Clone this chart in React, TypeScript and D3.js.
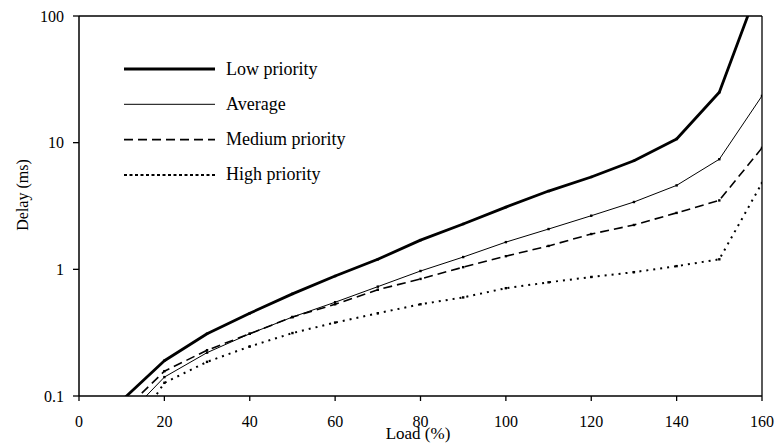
import React from "react";
import * as d3 from "d3";

const loads = [10, 20, 30, 40, 50, 60, 70, 80, 90, 100, 110, 120, 130, 140, 150, 160];
const lowPriority = [0.092, 0.19, 0.31, 0.45, 0.64, 0.885, 1.2, 1.7, 2.28, 3.1, 4.15, 5.36, 7.2, 10.7, 25, 200];
const average = [0.063, 0.141, 0.22, 0.31, 0.42, 0.55, 0.73, 0.97, 1.25, 1.64, 2.08, 2.65, 3.4, 4.6, 7.4, 23.4];
const mediumPriority = [0.074, 0.157, 0.23, 0.31, 0.42, 0.53, 0.69, 0.84, 1.04, 1.27, 1.53, 1.9, 2.24, 2.79, 3.5, 9.1];
const highPriority = [0.04, 0.127, 0.186, 0.246, 0.314, 0.38, 0.45, 0.53, 0.6, 0.71, 0.79, 0.87, 0.95, 1.06, 1.2, 4.8];

const xTicks = [0, 20, 40, 60, 80, 100, 120, 140, 160];
const yTicks = [0.1, 1, 10, 100];
const yTickLabels = ["0.1", "1", "10", "100"];

const seriesNames = ["Low priority", "Average", "Medium priority", "High priority"];
const seriesValues = [lowPriority, average, mediumPriority, highPriority];

const W = 778, H = 443;
const M = { left: 79, top: 16, right: 16, bottom: 47 };
const ts = { fontFamily: "Liberation Serif" };

const styles = [
  { width: 2.8, dash: "none", legendDash: "none" },
  { width: 1, dash: "none", legendDash: "none" },
  { width: 1.6, dash: "9,5", legendDash: "9,5" },
  { width: 2, dash: "2,5", legendDash: "3,2.5" },
];

export default function App() {
  const x = d3.scaleLinear().domain([0, 160]).range([M.left, W - M.right]);
  const y = d3.scaleLog().domain([0.1, 100]).range([H - M.bottom, M.top]);
  const line = d3.line<number>().x((_, i) => x(loads[i])).y((d) => y(d));
  const x0 = M.left, x1 = W - M.right, y0 = H - M.bottom, y1 = M.top;

  return (
    <svg width={W} height={H} style={{ position: "absolute", left: 0, top: 0, background: "#fff" }}>
      <defs>
        <clipPath id="plot">
          <rect x={x0} y={y1} width={x1 - x0} height={y0 - y1} />
        </clipPath>
      </defs>
      <rect x={0} y={0} width={W} height={H} fill="#fff" />
      <line x1={x0} x2={x1} y1={y1} y2={y1} stroke="#000" strokeWidth={1.3} />
      <line x1={x1} x2={x1} y1={y1} y2={y0} stroke="#000" strokeWidth={1.3} />
      <line x1={x0} x2={x0} y1={y1} y2={y0} stroke="#000" strokeWidth={1.5} />
      <line x1={x0} x2={x1} y1={y0} y2={y0} stroke="#000" strokeWidth={1.5} />
      {xTicks.map((t) => (
        <g key={"x" + t}>
          <line x1={x(t)} x2={x(t)} y1={y0} y2={y0 + 5} stroke="#000" strokeWidth={1.3} />
          <text x={x(t)} y={427} textAnchor="middle" fontSize={16} style={ts}>{t}</text>
        </g>
      ))}
      {yTicks.map((t, i) => (
        <g key={"y" + t}>
          <line x1={x0 - 6} x2={x0} y1={y(t)} y2={y(t)} stroke="#000" strokeWidth={1.3} />
          <text x={64} y={y(t) + 5.5} textAnchor="end" fontSize={16} style={ts}>{yTickLabels[i]}</text>
        </g>
      ))}
      <g clipPath="url(#plot)">
        {seriesValues.map((vals, si) => (
          <g key={"s" + si}>
            <path d={line(vals) || ""} fill="none" stroke="#000" strokeWidth={styles[si].width}
              strokeDasharray={styles[si].dash} strokeLinejoin="round" />
            {vals.map((v, i) => (
              <rect key={i} x={x(loads[i]) - 1.2} y={y(v) - 1.2} width={2.4} height={2.4} fill="#000" />
            ))}
          </g>
        ))}
      </g>
      {seriesNames.map((n, i) => {
        const ly = 69 + i * 35.3;
        return (
          <g key={"l" + i}>
            <line x1={124} x2={215} y1={ly} y2={ly} stroke="#000" strokeWidth={styles[i].width}
              strokeDasharray={styles[i].legendDash} />
            <text x={226} y={ly + 5.5} fontSize={18} style={ts}>{n}</text>
          </g>
        );
      })}
      <text x={418} y={439} textAnchor="middle" fontSize={17} style={ts}>Load (%)</text>
      <text transform={`translate(28,195) rotate(-90)`} textAnchor="middle" fontSize={16} style={ts}>Delay (ms)</text>
    </svg>
  );
}
